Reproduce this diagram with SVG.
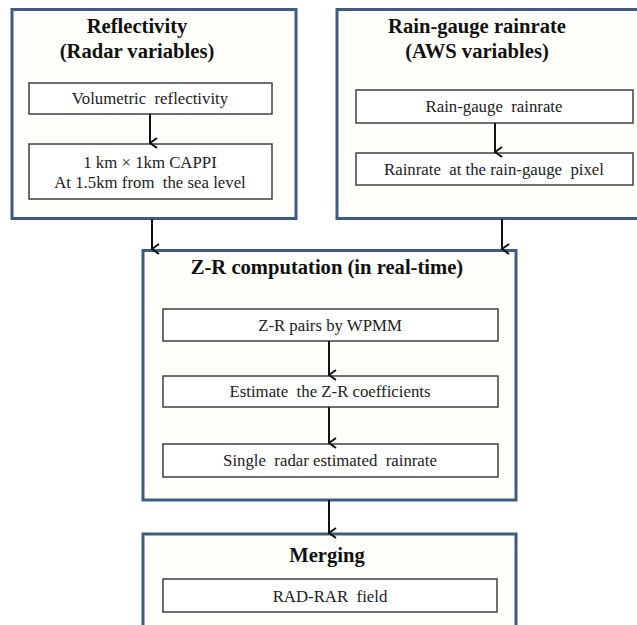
<svg xmlns="http://www.w3.org/2000/svg" width="637" height="625" viewBox="0 0 637 625">
<defs>
<style>
.outer{fill:#fefefb;stroke:#3e5b82;stroke-width:3}
.inner{fill:#ffffff;stroke:#404040;stroke-width:1.5}
text{font-family:'Liberation Serif','Times New Roman',serif;text-anchor:middle;white-space:pre}
.title{font-weight:bold;font-size:20.6px;fill:#111}
.label{font-size:16.8px;fill:#222}
.conn{stroke:#111;stroke-width:2;fill:none;marker-end:url(#arr)}
</style>
<marker id="arr" viewBox="0 0 12 10" refX="6" refY="9" markerWidth="12" markerHeight="10" markerUnits="userSpaceOnUse" orient="auto-start-reverse">
<path d="M1,2 L6,9 L11,2" fill="none" stroke="#111" stroke-width="2"/>
</marker>
</defs>
<rect width="637" height="625" fill="#ffffff"/>
<g id="radar">
<rect class="outer" x="12" y="9.5" width="284" height="209"/>
<text class="title" x="137" y="33">Reflectivity</text>
<text class="title" x="137" y="58">(Radar variables)</text>
<g id="vol"><rect class="inner" x="29" y="83" width="243" height="31"/><text class="label" x="150" y="104" xml:space="preserve">Volumetric  reflectivity</text></g>
<g id="cappi"><rect class="inner" x="29" y="144" width="243" height="55"/><text class="label" x="150" y="168" xml:space="preserve">1 km × 1km CAPPI</text><text class="label" x="150" y="188" xml:space="preserve">At 1.5km from  the sea level</text></g>
</g>
<g id="aws">
<rect class="outer" x="337" y="9.5" width="310" height="209"/>
<text class="title" x="477" y="33">Rain-gauge rainrate</text>
<text class="title" x="477" y="58">(AWS variables)</text>
<g id="rg"><rect class="inner" x="356" y="90" width="277" height="33"/><text class="label" x="494" y="112" xml:space="preserve">Rain-gauge  rainrate</text></g>
<g id="rgpix"><rect class="inner" x="356" y="153" width="277" height="32"/><text class="label" x="494" y="175" xml:space="preserve">Rainrate  at the rain-gauge  pixel</text></g>
</g>
<g id="zr">
<rect class="outer" x="143" y="250.5" width="373" height="249.5"/>
<text class="title" x="327" y="274">Z-R computation (in real-time)</text>
<g id="pairs"><rect class="inner" x="163" y="309" width="335" height="32"/><text class="label" x="330" y="331" xml:space="preserve">Z-R pairs by WPMM</text></g>
<g id="coef"><rect class="inner" x="163" y="376" width="335" height="31"/><text class="label" x="330" y="397" xml:space="preserve">Estimate  the Z-R coefficients</text></g>
<g id="single"><rect class="inner" x="163" y="444" width="335" height="33"/><text class="label" x="330" y="466" xml:space="preserve">Single  radar estimated  rainrate</text></g>
</g>
<g id="merging">
<rect class="outer" x="143" y="534" width="373" height="100"/>
<text class="title" x="327" y="562">Merging</text>
<g id="radrar"><rect class="inner" x="163" y="579" width="334" height="33"/><text class="label" x="330" y="602" xml:space="preserve">RAD-RAR  field</text></g>
</g>
<g id="connectors">
<line class="conn" x1="150" y1="114" x2="150" y2="143"/>
<line class="conn" x1="495" y1="123" x2="495" y2="152"/>
<line class="conn" x1="152" y1="219" x2="152" y2="249"/>
<line class="conn" x1="502" y1="219" x2="502" y2="249"/>
<line class="conn" x1="329" y1="341" x2="329" y2="375"/>
<line class="conn" x1="329" y1="407" x2="329" y2="443"/>
<line class="conn" x1="329" y1="500" x2="329" y2="533"/>
</g>
</svg>
